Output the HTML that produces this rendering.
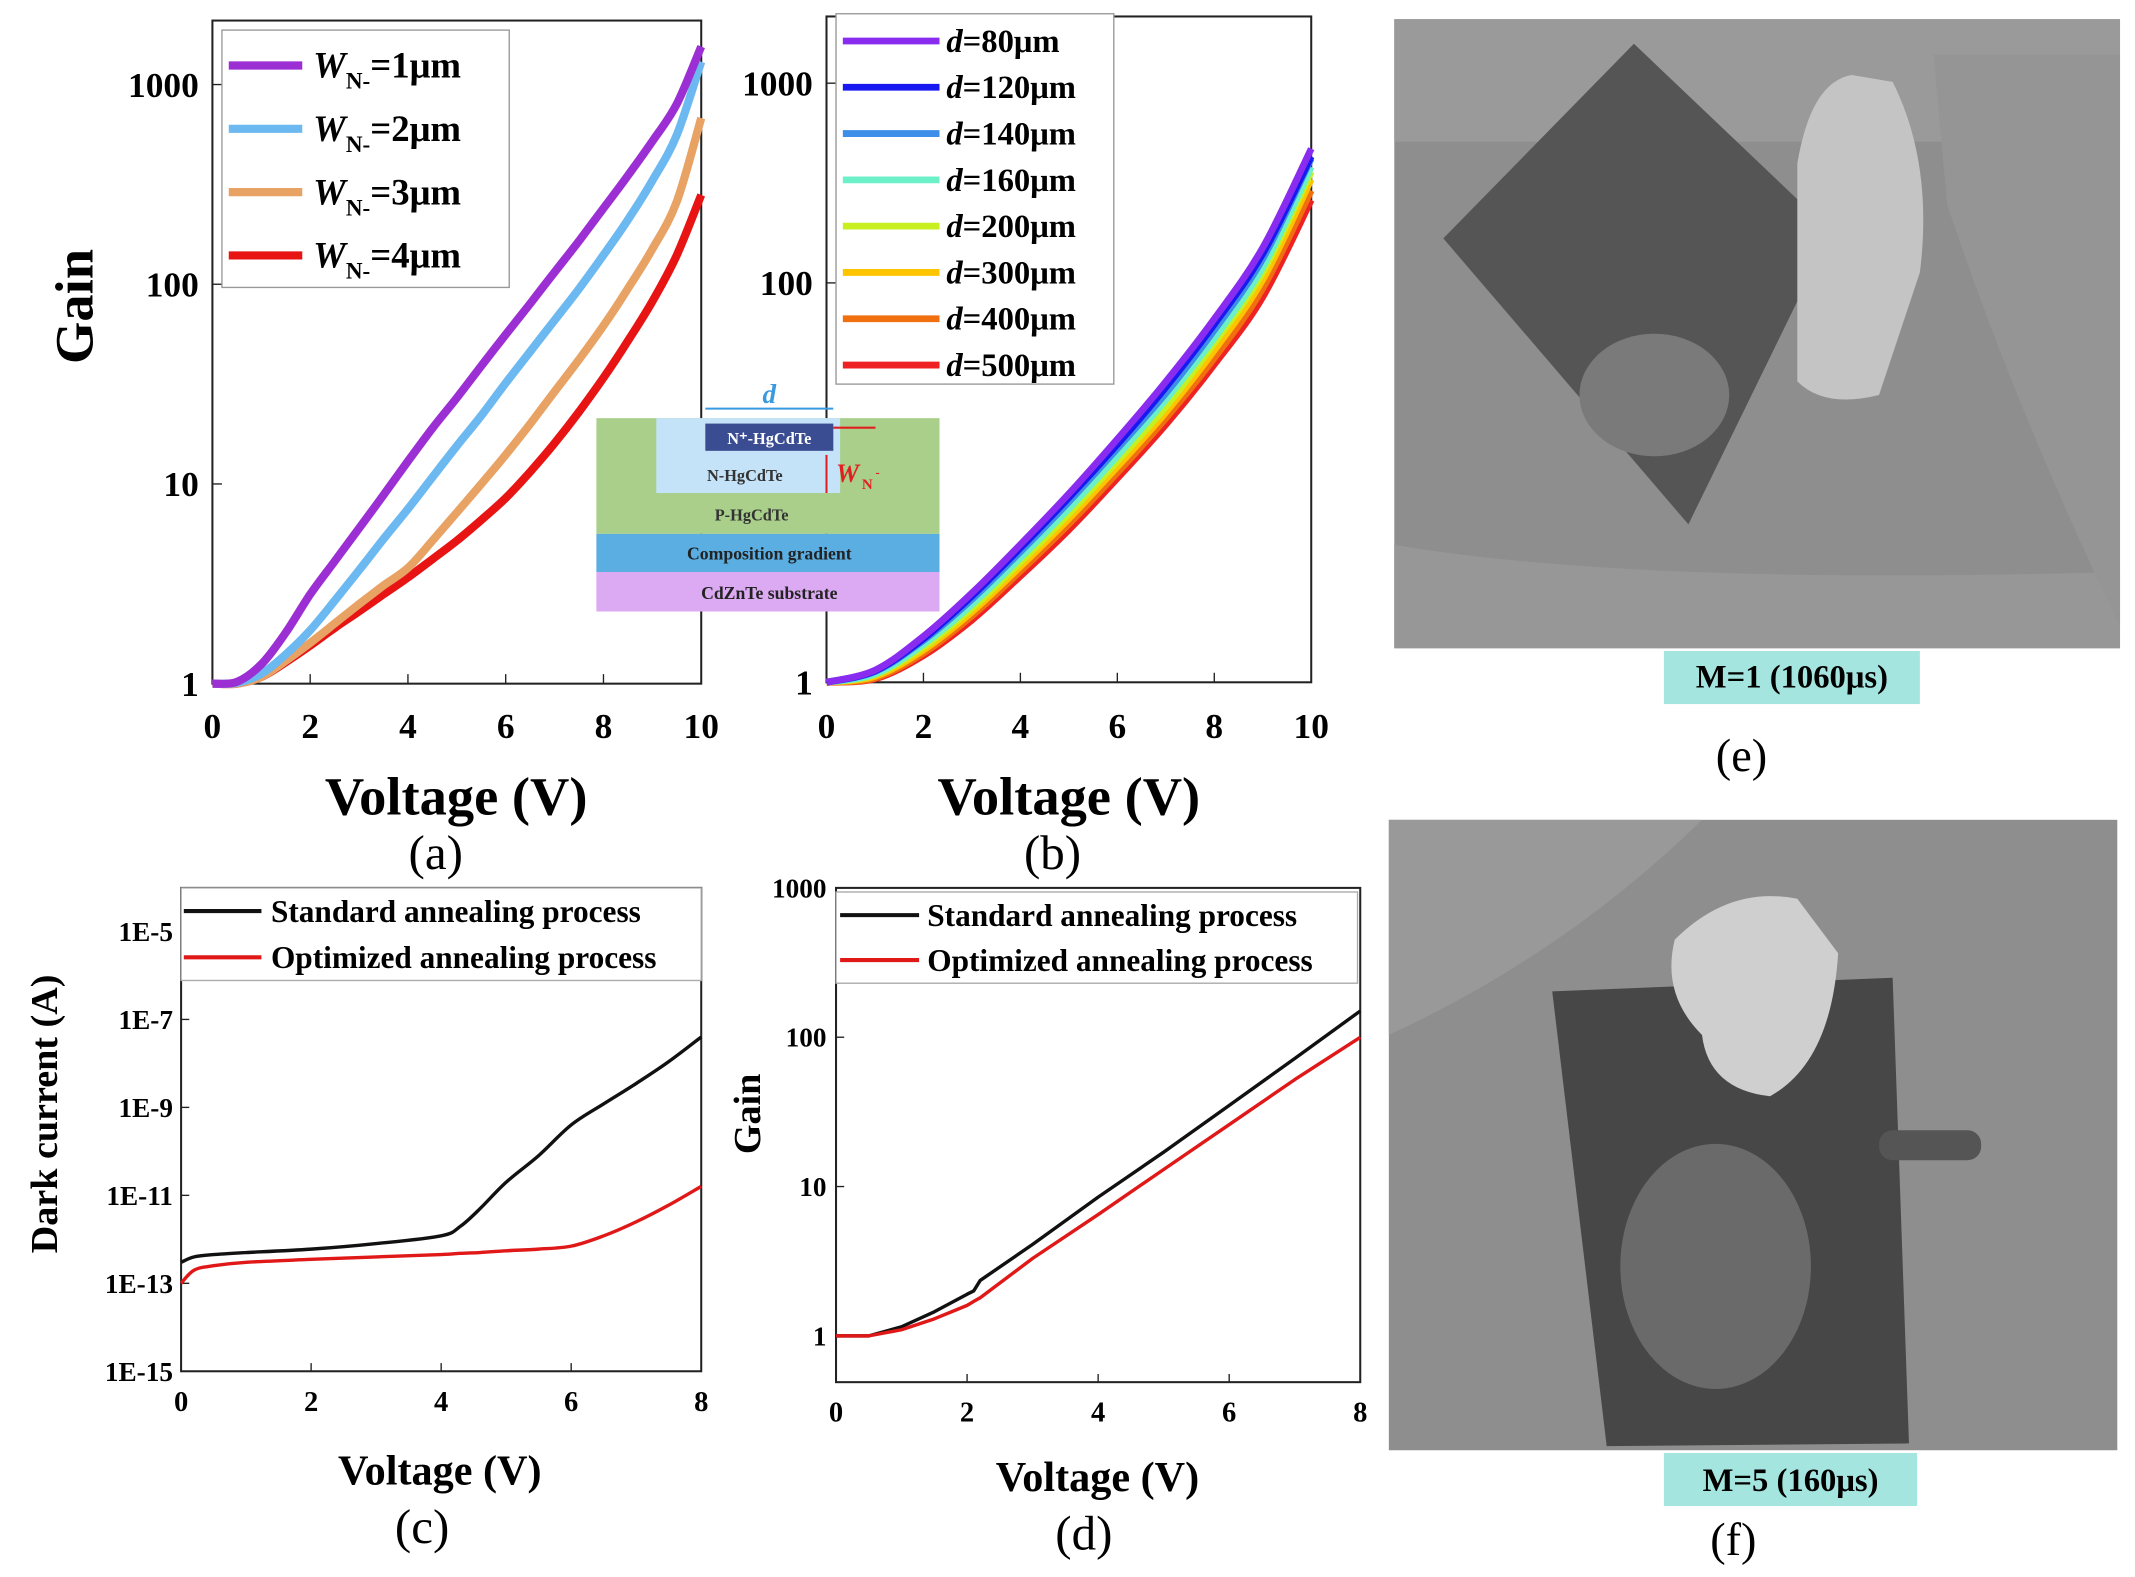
<!DOCTYPE html>
<html><head><meta charset="utf-8">
<style>
html,body{margin:0;padding:0;background:#fff;}
svg{display:block;}
text{font-family:"Liberation Serif",serif;}
</style></head>
<body>
<svg id="fig" width="2135" height="1577" viewBox="0 0 1568 1158" xmlns="http://www.w3.org/2000/svg">
<rect width="1568" height="1158" fill="#fff"/>
<g id="layer"></g>

<!-- inset diagram -->
<g>
<rect x="438" y="307" width="252" height="85" fill="#a9cf8a"/>
<rect x="438" y="392" width="252" height="28" fill="#5aaee2"/>
<rect x="438" y="420" width="252" height="29" fill="#dcaaf2"/>
<rect x="482" y="307" width="135" height="55" fill="#c4e2f8"/>
<rect x="518" y="311" width="94" height="20" fill="#3a4c92"/>
<text x="565" y="326" font-size="12" font-weight="bold" fill="#fff" text-anchor="middle">N⁺-HgCdTe</text>
<text x="547" y="353" font-size="12" font-weight="bold" fill="#333" text-anchor="middle">N-HgCdTe</text>
<text x="552" y="382" font-size="12" font-weight="bold" fill="#333" text-anchor="middle">P-HgCdTe</text>
<text x="565" y="411" font-size="13" font-weight="bold" fill="#222" text-anchor="middle">Composition gradient</text>
<text x="565" y="440" font-size="13" font-weight="bold" fill="#222" text-anchor="middle">CdZnTe substrate</text>
<line x1="518" y1="300" x2="612" y2="300" stroke="#3a9ae0" stroke-width="1.5"/>
<text x="565" y="296" font-size="20" font-weight="bold" font-style="italic" fill="#3a9ae0" text-anchor="middle">d</text>
<line x1="612" y1="314" x2="643" y2="314" stroke="#e02020" stroke-width="1.5"/>
<line x1="607" y1="334" x2="607" y2="362" stroke="#e02020" stroke-width="1.5"/>
<text x="614" y="354" font-size="19" font-weight="bold" font-style="italic" fill="#e02020">W</text>
<text x="633" y="359" font-size="11" font-weight="bold" fill="#e02020">N</text>
<text x="643" y="350" font-size="9" font-weight="bold" fill="#e02020">-</text>
</g>

<!-- photo e -->
<g>
<rect x="1024" y="14" width="533" height="462" fill="#8e8e8e"/>
<rect x="1024" y="14" width="533" height="90" fill="#9a9a9a"/>
<path d="M1024 400 Q1200 430 1557 420 L1557 476 L1024 476Z" fill="#979797"/>
<polygon points="1060,175 1200,32 1345,170 1240,385" fill="#555"/>
<ellipse cx="1215" cy="290" rx="55" ry="45" fill="#7a7a7a"/>
<path d="M1320 120 Q1330 60 1360 55 L1390 60 Q1420 120 1410 200 L1380 290 Q1340 300 1320 280 Z" fill="#c4c4c4"/>
<path d="M1420 40 L1557 40 L1557 460 Q1480 300 1430 150Z" fill="#959595"/>
</g>
<rect x="1222" y="478" width="188" height="39" fill="#a4e6df"/>
<text x="1316" y="505" font-size="24" font-weight="bold" text-anchor="middle">M=1 (1060μs)</text>
<text x="1279" y="566" font-size="34" text-anchor="middle">(e)</text>

<!-- photo f -->
<g>
<rect x="1020" y="602" width="535" height="463" fill="#8e8e8e"/>
<path d="M1020 602 L1250 602 Q1150 700 1020 760Z" fill="#999"/>
<polygon points="1140,728 1390,718 1402,1060 1180,1062" fill="#474747"/>
<ellipse cx="1260" cy="930" rx="70" ry="90" fill="#6a6a6a"/>
<path d="M1230 690 Q1270 650 1320 660 L1350 700 Q1345 780 1300 805 Q1255 800 1250 760 Q1220 730 1230 690Z" fill="#cfcfcf"/>
<rect x="1380" y="830" width="75" height="22" rx="10" fill="#555"/>
</g>
<rect x="1222" y="1067" width="186" height="39" fill="#a4e6df"/>
<text x="1315" y="1095" font-size="24" font-weight="bold" text-anchor="middle">M=5 (160μs)</text>
<text x="1273" y="1142" font-size="34" text-anchor="middle">(f)</text>
</svg>

<script>
// ---------- data ----------
const aVolts = [0,0.5,1,1.5,2,2.5,3,3.5,4,4.5,5,5.5,6,6.5,7,7.5,8,8.5,9,9.5,10];
const aW1 = [1,1.02,1.25,1.8,2.8,4.1,6,8.8,13,19,27,39,56,80,115,165,240,350,520,800,1550];
const aW2 = [1,1.01,1.12,1.4,1.85,2.6,3.7,5.3,7.5,10.8,15.5,22,32,46,66,95,140,210,330,560,1300];
const aW3 = [1,1.0,1.08,1.3,1.6,2.0,2.5,3.1,3.8,5.2,7.2,10,14,20,29,42,62,95,150,260,680];
const aW4 = [1,1.0,1.08,1.28,1.55,1.9,2.3,2.8,3.4,4.2,5.2,6.6,8.5,11.5,16,23,34,52,82,140,280];
const aLabels = ["=1μm","=2μm","=3μm","=4μm"];

const bVolts = [0,1,2,3,4,5,6,7,8,9,10];
const bD80  = [1,1.15,1.7,2.8,4.9,8.8,16.5,32,66,150,470];
const bD120 = [1,1.14,1.65,2.7,4.7,8.4,15.5,30,62,140,430];
const bD140 = [1,1.13,1.62,2.6,4.5,8.0,14.8,28,58,132,420];
const bD160 = [1,1.1,1.55,2.45,4.2,7.4,13.6,26,53,120,380];
const bD200 = [1,1.09,1.5,2.35,4.0,7.0,12.8,24,50,113,360];
const bD300 = [1,1.07,1.45,2.25,3.8,6.6,12,22.5,46,104,330];
const bD400 = [1,1.05,1.4,2.15,3.6,6.2,11.2,21,42,94,290];
const bD500 = [1,1.04,1.36,2.05,3.4,5.8,10.5,19.5,39,85,260];
const bLabels = ["=80μm","=120μm","=140μm","=160μm","=200μm","=300μm","=400μm","=500μm"];

const cVolts = [0,0.2,0.5,1,2,3,4,4.3,4.6,5,5.5,6,6.5,7,7.5,8];
const cStandard = [3e-13,4e-13,4.5e-13,5e-13,6e-13,8e-13,1.2e-12,2e-12,5e-12,2e-11,8e-11,4e-10,1.2e-9,3.5e-9,1.1e-8,4e-8];
const cOptimized = [1e-13,2e-13,2.5e-13,3e-13,3.5e-13,4e-13,4.5e-13,4.8e-13,5e-13,5.5e-13,6e-13,7e-13,1.2e-12,2.5e-12,6e-12,1.6e-11];
const cTicks = ["1E-15","1E-13","1E-11","1E-9","1E-7","1E-5"];

const dVolts = [0,0.5,1,1.5,2,2.1,2.2,3,4,5,6,7,8];
const dStandard = [1,1.0,1.15,1.45,1.9,2.0,2.35,4.1,8.5,17,35,72,150];
const dOptimized = [1,1.0,1.1,1.3,1.6,1.7,1.8,3.3,6.5,13,26,52,100];

// ---------- drawing ----------
const NS="http://www.w3.org/2000/svg";
const layer=document.getElementById('layer');
function el(tag,attrs,parent){const e=document.createElementNS(NS,tag);for(const k in attrs)e.setAttribute(k,attrs[k]);(parent||layer).appendChild(e);return e;}
function linX(x0,x1,v0,v1){return v=>x0+(v-v0)/(v1-v0)*(x1-x0);}
function logY(y0,y1,l0,l1){return v=>y0+(Math.log10(v)-l0)/(l1-l0)*(y1-y0);}
function pathFrom(xs,ys,X,Y){return xs.map((v,i)=>(i?'L':'M')+X(v).toFixed(1)+' '+Y(ys[i]).toFixed(1)).join(' ');}
function smoothFrom(xs,ys,X,Y){
 const P=xs.map((v,i)=>[X(v),Y(ys[i])]);
 let d='M'+P[0][0].toFixed(1)+' '+P[0][1].toFixed(1);
 for(let i=0;i<P.length-1;i++){
  const p0=P[Math.max(0,i-1)],p1=P[i],p2=P[i+1],p3=P[Math.min(P.length-1,i+2)];
  const c1=[p1[0]+(p2[0]-p0[0])/6,p1[1]+(p2[1]-p0[1])/6];
  const c2=[p2[0]-(p3[0]-p1[0])/6,p2[1]-(p3[1]-p1[1])/6];
  d+=' C'+c1[0].toFixed(1)+' '+c1[1].toFixed(1)+' '+c2[0].toFixed(1)+' '+c2[1].toFixed(1)+' '+p2[0].toFixed(1)+' '+p2[1].toFixed(1);
 }
 return d;}
function frame(x0,y0,x1,y1,name){const r=el('rect',{x:x0,y:y0,width:x1-x0,height:y1-y0,fill:'none',stroke:'#222','stroke-width':1.5});}
function tickText(x,y,s,size,anchor,name){const t=el('text',{x:x,y:y,'font-size':size,'font-weight':'bold','text-anchor':anchor});t.textContent=s;return t;}
function series(xs,ys,X,Y,color,w,name,smooth){const p=el('path',{d:smooth?smoothFrom(xs,ys,X,Y):pathFrom(xs,ys,X,Y),fill:'none',stroke:color,'stroke-width':w,'stroke-linejoin':'round'});}

// Panel (a)
(function(){
 const X=linX(156,515,0,10), Y=logY(502,62,0,3);
 frame(156,15,515,502,'plot-frame-a');
 [0,2,4,6,8,10].forEach(v=>{el('line',{x1:X(v),y1:502,x2:X(v),y2:495,stroke:'#222'});tickText(X(v),542,String(v),26,'middle','x-tick-a');});
 [1,10,100,1000].forEach(v=>{el('line',{x1:156,y1:Y(v),x2:163,y2:Y(v),stroke:'#222'});tickText(146,Y(v)+9,String(v),26,'end','y-tick-a');});
 const cols=['#9b2fd4','#6cb8f0','#e8a264','#e81414'];
 [aW4,aW3,aW2,aW1].forEach((s,i)=>series(aVolts,s,X,Y,cols[3-i],6,'series-wn-'+(4-i),true));
 const lg=el('rect',{x:163,y:22,width:211,height:189,fill:'#fff',stroke:'#999'});
 
 aLabels.forEach((lab,i)=>{const y=48+i*46.5;
  el('line',{x1:168,y1:y,x2:222,y2:y,stroke:cols[i],'stroke-width':6});
  const t=el('text',{x:230,y:y+9,'font-size':27,'font-weight':'bold'});
  
  t.innerHTML='<tspan font-style="italic">W</tspan><tspan font-size="17" dy="8">N-</tspan><tspan dy="-8">'+lab+'</tspan>';});
 const g=el('text',{x:0,y:0,'font-size':40,'font-weight':'bold','text-anchor':'middle',transform:'translate(68,225) rotate(-90)'});g.textContent='Gain';
 const v=el('text',{x:335,y:598,'font-size':40,'font-weight':'bold','text-anchor':'middle'});v.textContent='Voltage (V)';
 const p=el('text',{x:320,y:638,'font-size':36,'text-anchor':'middle'});p.textContent='(a)';
})();

// Panel (b)
(function(){
 const X=linX(607,963,0,10), Y=logY(501,61,0,3);
 frame(607,12,963,501,'plot-frame-b');
 [0,2,4,6,8,10].forEach(v=>{el('line',{x1:X(v),y1:501,x2:X(v),y2:494,stroke:'#222'});tickText(X(v),542,String(v),26,'middle','x-tick-b');});
 [1,100,1000].forEach(v=>{el('line',{x1:607,y1:Y(v),x2:614,y2:Y(v),stroke:'#222'});tickText(597,Y(v)+9,String(v),26,'end','y-tick-b');});
 const cols=['#8a2cf0','#1818f0','#3c8ee8','#6cf0c8','#c8f020','#ffc400','#f07010','#ee2222'];
 const all=[bD80,bD120,bD140,bD160,bD200,bD300,bD400,bD500];
 for(let i=all.length-1;i>=0;i--) series(bVolts,all[i],X,Y,cols[i],5,'series-d-'+i,true);
 const lg=el('rect',{x:614,y:10,width:204,height:272,fill:'#fff',stroke:'#999'});
 
 bLabels.forEach((lab,i)=>{const y=30+i*34;
  el('line',{x1:619,y1:y,x2:690,y2:y,stroke:cols[i],'stroke-width':5});
  const t=el('text',{x:695,y:y+8,'font-size':24,'font-weight':'bold'});
  
  t.innerHTML='<tspan font-style="italic">d</tspan>'+lab;});
 const v=el('text',{x:785,y:598,'font-size':40,'font-weight':'bold','text-anchor':'middle'});v.textContent='Voltage (V)';
 const p=el('text',{x:773,y:638,'font-size':36,'text-anchor':'middle'});p.textContent='(b)';
})();

// Panel (c)
(function(){
 const X=linX(133,515,0,8), Y=logY(1007,684,-15,-5);
 frame(133,652,515,1007,'plot-frame-c');
 [0,2,4,6,8].forEach(v=>{el('line',{x1:X(v),y1:1007,x2:X(v),y2:1001,stroke:'#222'});tickText(X(v),1036,String(v),21,'middle','x-tick-c');});
 cTicks.forEach((s,i)=>{const val=Math.pow(10,-15+2*i);el('line',{x1:133,y1:Y(val),x2:139,y2:Y(val),stroke:'#222'});tickText(127,Y(val)+7,s,20,'end','y-tick-c');});
 series(cVolts,cStandard,X,Y,'#111',2.5,'series-standard-c',true);
 series(cVolts,cOptimized,X,Y,'#e01818',2.5,'series-optimized-c',true);
 const lg=el('rect',{x:133,y:652,width:382,height:68,fill:'#fff',stroke:'#aaa'});
 
 [['Standard annealing process','#111',669],['Optimized annealing process','#e01818',703]].forEach(e=>{
  el('line',{x1:135,y1:e[2],x2:192,y2:e[2],stroke:e[1],'stroke-width':3});
  const t=el('text',{x:199,y:e[2]+8,'font-size':23,'font-weight':'bold'});t.textContent=e[0];
  });
 const g=el('text',{x:0,y:0,'font-size':28,'font-weight':'bold','text-anchor':'middle',transform:'translate(42,818) rotate(-90)'});g.textContent='Dark current (A)';
 const v=el('text',{x:323,y:1090,'font-size':31,'font-weight':'bold','text-anchor':'middle'});v.textContent='Voltage (V)';
 const p=el('text',{x:310,y:1133,'font-size':36,'text-anchor':'middle'});p.textContent='(c)';
})();

// Panel (d)
(function(){
 const X=linX(614,999,0,8), Y=logY(981,652,0,3);
 frame(614,652,999,1015,'plot-frame-d');
 [0,2,4,6,8].forEach(v=>{el('line',{x1:X(v),y1:1015,x2:X(v),y2:1009,stroke:'#222'});tickText(X(v),1044,String(v),21,'middle','x-tick-d');});
 [1,10,100,1000].forEach(v=>{el('line',{x1:614,y1:Y(v),x2:620,y2:Y(v),stroke:'#222'});tickText(607,Y(v)+7,String(v),20,'end','y-tick-d');});
 series(dVolts,dStandard,X,Y,'#111',2.5,'series-standard-d',false);
 series(dVolts,dOptimized,X,Y,'#e01818',2.5,'series-optimized-d',false);
 const lg=el('rect',{x:614,y:655,width:383,height:67,fill:'#fff',stroke:'#aaa'});
 
 [['Standard annealing process','#111',672],['Optimized annealing process','#e01818',705]].forEach(e=>{
  el('line',{x1:617,y1:e[2],x2:675,y2:e[2],stroke:e[1],'stroke-width':3});
  const t=el('text',{x:681,y:e[2]+8,'font-size':23,'font-weight':'bold'});t.textContent=e[0];
  });
 const g=el('text',{x:0,y:0,'font-size':28,'font-weight':'bold','text-anchor':'middle',transform:'translate(558,818) rotate(-90)'});g.textContent='Gain';
 const v=el('text',{x:806,y:1095,'font-size':31,'font-weight':'bold','text-anchor':'middle'});v.textContent='Voltage (V)';
 const p=el('text',{x:796,y:1138,'font-size':36,'text-anchor':'middle'});p.textContent='(d)';
})();
</script>
</body></html>
